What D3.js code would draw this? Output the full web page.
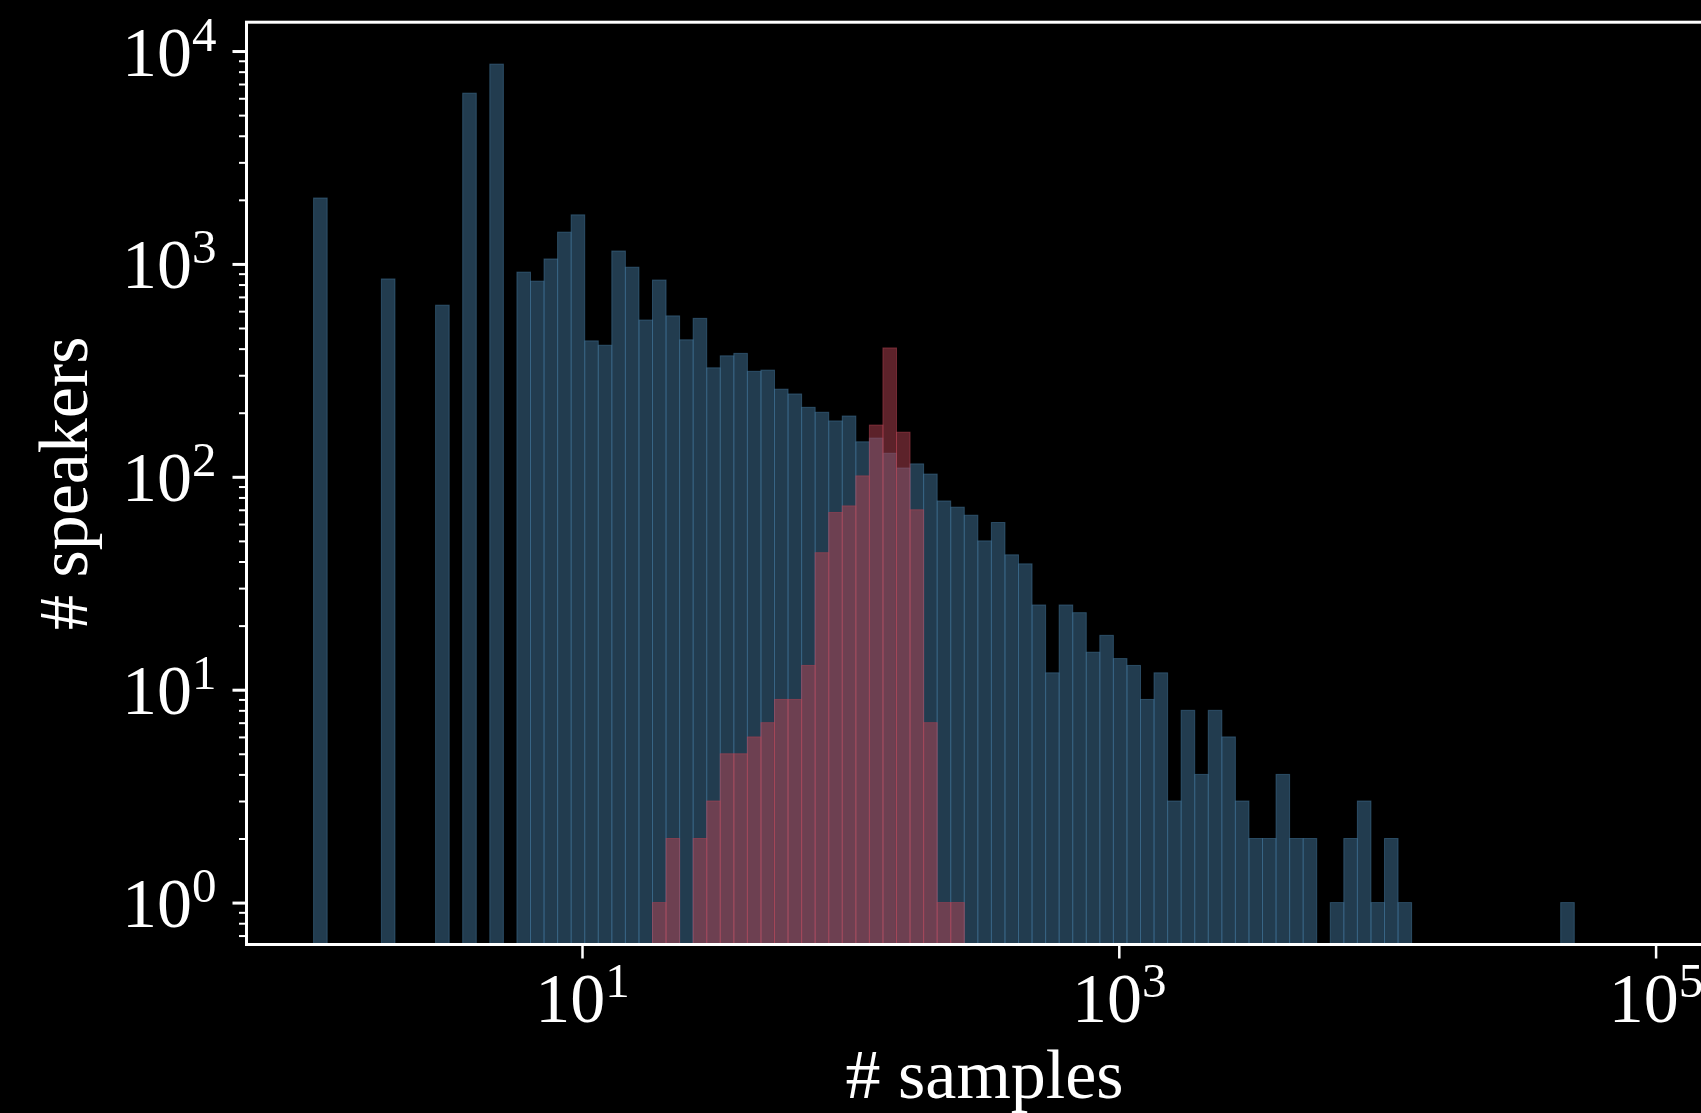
<!DOCTYPE html>
<html><head><meta charset="utf-8">
<script src="https://cdn.jsdelivr.net/npm/d3@7"></script>
<style>html,body{margin:0;padding:0;background:#000;} svg{display:block;}</style>
</head><body><svg id="chart" width="1701" height="1113"></svg>
<script>
// Histogram bins: 100 log-spaced edges from 10^0 to 10^5 (99 bins)
const binCount = 99;
const binEdges = d3.range(binCount + 1).map(i => Math.pow(10, 5 * i / binCount));

// counts per bin (all speakers, blue)
const allSpeakers = [
  2040,0,0,0,0,850,0,0,0,640,
  0,6340,0,8680,0,915,830,1055,1410,1700,
  435,415,1150,965,545,840,570,440,555,325,
  370,380,313,317,258,245,212,201,183,193,
  146,152,129,110,115,103,77,72,66,50,
  61,43,39,25,12,25,23,15,18,14,
  13,9,12,3,8,4,8,6,3,2,
  2,4,2,2,0,1,2,3,1,2,
  1,0,0,0,0,0,0,0,0,0,
  0,0,1,0,0,0,0,0,0
];
// counts per bin (selected speakers, red)
const selectedSpeakers = [
  0,0,0,0,0,0,0,0,0,0,
  0,0,0,0,0,0,0,0,0,0,
  0,0,0,0,0,1,2,0,2,3,
  5,5,6,7,9,9,13,44,68,73,
  101,175,403,162,70,7,1,1,0,0,
  0,0,0,0,0,0,0,0,0,0,
  0,0,0,0,0,0,0,0,0,0,
  0,0,0,0,0,0,0,0,0,0,
  0,0,0,0,0,0,0,0,0,0,
  0,0,0,0,0,0,0,0,0
];
const xTickValues = [10, 1000, 100000];
const xTickExponents = ["1", "3", "5"];
const yTickValues = [1, 10, 100, 1000, 10000];
const yTickExponents = ["0", "1", "2", "3", "4"];
const xLabel = "# samples";
const yLabel = "# speakers";

const blueColor = "#44789e";
const redColor = "#b84454";
const FONT = "'Liberation Serif', 'Times New Roman', serif";
const fs = 70, supFs = 49;

const svg = d3.select("#chart");
svg.append("rect").attr("width", 1701).attr("height", 1113).attr("fill", "#000");

const plotLeft = 246.5, plotTop = 22.2, plotBottom = 944.5;
const pxPerDecadeX = 268.4;

// x domain with 5% margin in log space
const lx0 = Math.log10(binEdges[0]), lx1 = Math.log10(binEdges[binCount]);
const mx = (lx1 - lx0) * 0.05;
const xDomain = [Math.pow(10, lx0 - mx), Math.pow(10, lx1 + mx)];
const plotRight = plotLeft + (lx1 - lx0 + 2 * mx) * pxPerDecadeX;
const x = d3.scaleLog().domain(xDomain).range([plotLeft, plotRight]);

// y domain with 5% margin in log space
const positives = allSpeakers.concat(selectedSpeakers).filter(v => v > 0);
const ly0 = Math.log10(d3.min(positives)), ly1 = Math.log10(d3.max(positives));
const my = (ly1 - ly0) * 0.05;
const y = d3.scaleLog().domain([Math.pow(10, ly0 - my), Math.pow(10, ly1 + my)]).range([plotBottom, plotTop]);

const plot = svg.append("g");
function drawHist(counts, color) {
  const data = counts.map((c, i) => ({c, i})).filter(d => d.c > 0);
  plot.append("g").selectAll("rect").data(data).join("rect")
    .attr("x", d => x(binEdges[d.i]))
    .attr("width", d => x(binEdges[d.i + 1]) - x(binEdges[d.i]))
    .attr("y", d => y(d.c))
    .attr("height", d => plotBottom - y(d.c))
    .attr("fill", color).attr("fill-opacity", 0.5)
    .attr("stroke", color).attr("stroke-opacity", 0.5).attr("stroke-width", 1);
}
drawHist(allSpeakers, blueColor);
drawHist(selectedSpeakers, redColor);

// Y axis: minor ticks
const minorVals = y.ticks().filter(v => !yTickValues.includes(v));
const gyMinor = svg.append("g").attr("transform", `translate(${plotLeft},0)`)
  .call(d3.axisLeft(y).tickValues(minorVals).tickSize(7.5).tickFormat(""));
gyMinor.select(".domain").remove();
gyMinor.selectAll(".tick line").attr("stroke", "#fff").attr("stroke-width", 2);

// Y axis: major ticks + labels
const gy = svg.append("g").attr("transform", `translate(${plotLeft},0)`)
  .call(d3.axisLeft(y).tickValues(yTickValues).tickSize(14).tickPadding(16).tickFormat(""));
gy.select(".domain").remove();
gy.attr("font-size", null).attr("font-family", null);
gy.selectAll(".tick line").attr("stroke", "#fff").attr("stroke-width", 3);
gy.selectAll(".tick text").each(function(d) {
  const t = d3.select(this);
  t.text(null).attr("dy", null).attr("y", 24).attr("fill", "#fff")
   .attr("font-family", FONT).attr("font-size", fs).attr("text-anchor", "end");
  t.append("tspan").text("10");
  t.append("tspan").attr("dy", -25).attr("font-size", supFs).text(yTickExponents[yTickValues.indexOf(d)]);
});

// X axis
const gx = svg.append("g").attr("transform", `translate(0,${plotBottom})`)
  .call(d3.axisBottom(x).tickValues(xTickValues).tickSize(14).tickFormat(""));
gx.select(".domain").remove();
gx.attr("font-size", null).attr("font-family", null);
gx.selectAll(".tick line").attr("stroke", "#fff").attr("stroke-width", 2.5);
gx.selectAll(".tick text").each(function(d) {
  const t = d3.select(this);
  t.text(null).attr("dy", null).attr("y", 77).attr("fill", "#fff")
   .attr("font-family", FONT).attr("font-size", fs).attr("text-anchor", "middle");
  t.append("tspan").text("10");
  t.append("tspan").attr("dy", -25).attr("font-size", supFs).text(xTickExponents[xTickValues.indexOf(d)]);
});

// spines
const sp = svg.append("g").attr("stroke", "#fff").attr("stroke-width", 3).attr("fill", "none");
sp.append("rect").attr("x", plotLeft).attr("y", plotTop).attr("width", plotRight - plotLeft).attr("height", plotBottom - plotTop);

// axis titles
svg.append("text").attr("x", (plotLeft + plotRight) / 2).attr("y", 1098)
  .attr("text-anchor", "middle").attr("fill", "#fff")
  .attr("font-family", FONT).attr("font-size", fs).text(xLabel);
svg.append("text").attr("transform", `translate(87,${(plotTop + plotBottom) / 2}) rotate(-90)`)
  .attr("text-anchor", "middle").attr("fill", "#fff")
  .attr("font-family", FONT).attr("font-size", fs).text(yLabel);
</script>
</body></html>
